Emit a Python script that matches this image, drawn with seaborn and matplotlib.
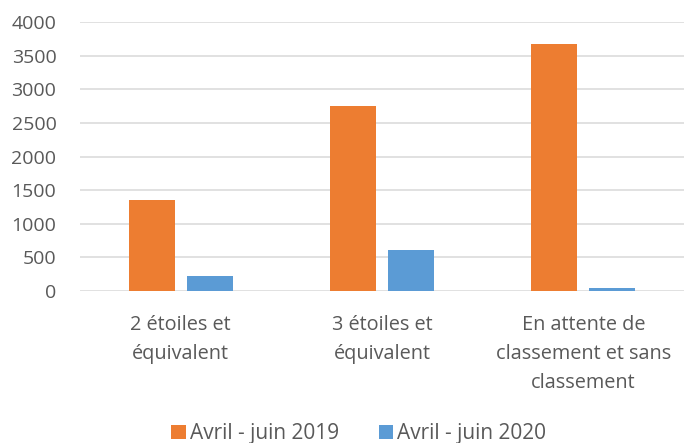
import matplotlib
matplotlib.use("Agg")
import matplotlib.pyplot as plt
import seaborn as sns
import pandas as pd

categories = ["2 étoiles et\néquivalent", "3 étoiles et\néquivalent",
              "En attente de\nclassement et sans\nclassement"]
series_names = ["Avril - juin 2019", "Avril - juin 2020"]
values_2019 = [1360, 2755, 3680]
values_2020 = [225, 610, 40]
y_ticks = [0, 500, 1000, 1500, 2000, 2500, 3000, 3500, 4000]
colors = ["#ED7D31", "#5B9BD5"]

df = pd.DataFrame({
    "cat": categories * 2,
    "serie": [series_names[0]] * 3 + [series_names[1]] * 3,
    "val": values_2019 + values_2020,
})

sns.set_theme(style="white")
plt.rcParams["font.family"] = ["Open Sans", "DejaVu Sans"]
text_color = "#595959"

fig = plt.figure(figsize=(6.86, 4.43), dpi=100)
ax = fig.add_axes([80 / 686, 1 - 291 / 443, 604 / 686, 269 / 443])

sns.barplot(data=df, x="cat", y="val", hue="serie", palette=colors,
            width=0.577, gap=0.207, linewidth=0, saturation=1, ax=ax,
            legend=True)

ax.set_ylim(0, 4000)
ax.set_xlim(-0.5, 2.5)
ax.set_yticks(y_ticks)
ax.set_yticklabels([str(v) for v in y_ticks])
ax.yaxis.grid(True, color="#D9D9D9", linewidth=1.1)
ax.set_axisbelow(True)
for s in ax.spines.values():
    s.set_visible(False)
ax.set_xlabel("")
ax.set_ylabel("")
ax.tick_params(axis="y", length=0, pad=17, labelsize=14, labelcolor=text_color)
ax.tick_params(axis="x", length=0, pad=17, labelsize=14.3, labelcolor=text_color)
for lab in ax.get_xticklabels():
    lab.set_linespacing(1.6)

handles, labels = ax.get_legend_handles_labels()
ax.get_legend().remove()
leg = fig.legend(handles, labels, loc="lower center", bbox_to_anchor=(0.523, -0.045),
                 ncol=2, frameon=False, fontsize=15, handlelength=0.7,
                 handleheight=0.7, handletextpad=0.2, columnspacing=1.9,
                 labelcolor=text_color)

fig.savefig("out.png", dpi=100)
